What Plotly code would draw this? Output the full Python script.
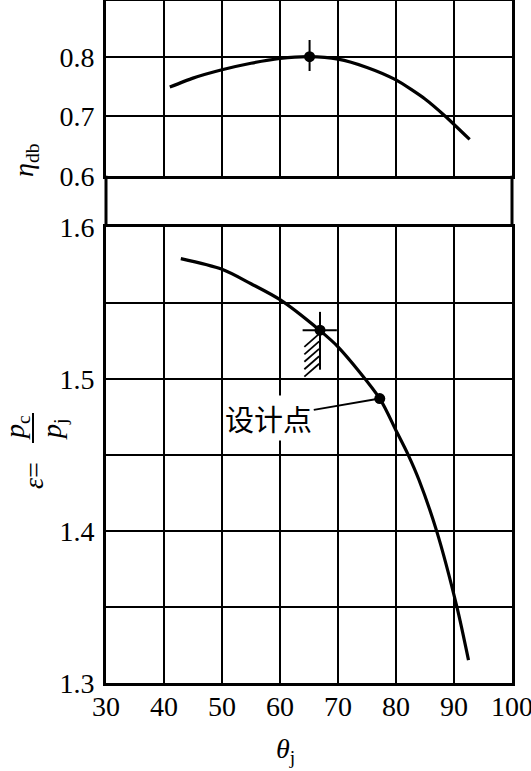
import plotly.graph_objects as go

# ---------------- data ----------------
theta_eta = [41.0, 45, 50, 55, 60, 65, 70, 75, 80, 85, 88.5, 92.7]
eta_db = [0.749, 0.764, 0.778, 0.789, 0.797, 0.800, 0.796, 0.782, 0.761, 0.729, 0.700, 0.661]

theta_eps = [42.9, 50, 55, 60, 66.8, 70, 77.2, 80, 82.1, 83.95, 87.0, 90.5, 92.5]
eps = [1.579, 1.572, 1.5625, 1.552, 1.532, 1.521, 1.487, 1.466, 1.450, 1.4336, 1.400, 1.350, 1.315]

eta_peak = (65.1, 0.800)
eps_limit = (66.9, 1.532)
design_pt = (77.2, 1.487)

x_ticks = [30, 40, 50, 60, 70, 80, 90, 100]
eta_ticks = [0.6, 0.7, 0.8]
eta_labels = ["0.6", "0.7", "0.8"]
eps_ticks = [1.3, 1.35, 1.4, 1.45, 1.5, 1.55, 1.6]
eps_labels = ["1.3", "", "1.4", "", "1.5", "", "1.6"]

# ---------------- layout helpers ----------------
W, H = 531, 771
ML, MR, MT, MB = 106, 19, 1, 88
PW, PH = W - ML - MR, H - MT - MB


def px(x):
    return (x - ML) / PW


def py(y):
    return (H - MB - y) / PH


SERIF = "Liberation Serif"
FS = 28

fig = go.Figure()

fig.add_trace(go.Scatter(x=theta_eps, y=eps, mode="lines",
                         line=dict(color="black", width=3.2, shape="spline", smoothing=0.8),
                         xaxis="x", yaxis="y", showlegend=False))
fig.add_trace(go.Scatter(x=theta_eta, y=eta_db, mode="lines",
                         line=dict(color="black", width=3.2, shape="spline", smoothing=0.6),
                         xaxis="x2", yaxis="y2", showlegend=False))
fig.add_trace(go.Scatter(x=[eps_limit[0], design_pt[0]], y=[eps_limit[1], design_pt[1]],
                         mode="markers", marker=dict(color="black", size=11),
                         xaxis="x", yaxis="y", showlegend=False))
fig.add_trace(go.Scatter(x=[eta_peak[0]], y=[eta_peak[1]], mode="markers",
                         marker=dict(color="black", size=11),
                         xaxis="x2", yaxis="y2", showlegend=False))

bot_dom = [0, py(226.7)]
top_dom = [py(175.7), 1]

axis_common = dict(showgrid=True, gridcolor="black", gridwidth=2,
                   showline=True, linecolor="black", linewidth=3, mirror=True,
                   zeroline=False, ticks="", ticklabeloverflow="allow",
                   tickfont=dict(family=SERIF, size=FS, color="black"))

fig.update_layout(
    width=W, height=H,
    margin=dict(l=ML, r=MR, t=MT, b=MB, pad=0, autoexpand=False),
    paper_bgcolor="white", plot_bgcolor="white",
    xaxis=dict(range=[30, 100], tickvals=x_ticks, ticktext=[str(v) for v in x_ticks],
               anchor="y", ticklabelstandoff=-4, **axis_common),
    yaxis=dict(range=[1.3, 1.6], domain=bot_dom, tickvals=eps_ticks, ticktext=eps_labels,
               anchor="x", ticklabelstandoff=3, **axis_common),
    xaxis2=dict(range=[30, 100], tickvals=x_ticks, showticklabels=False,
                anchor="y2", matches="x", **axis_common),
    yaxis2=dict(range=[0.6, 0.6 + 174.7 / 595], domain=top_dom, tickvals=eta_ticks,
                ticktext=eta_labels, anchor="x2", ticklabelstandoff=3, **axis_common),
)

shapes = []
# side borders in the gap between panels
for xp in (0, 1):
    shapes.append(dict(type="line", xref="paper", yref="paper", x0=xp, x1=xp,
                       y0=bot_dom[1], y1=top_dom[0], line=dict(color="black", width=3)))
# cross at peak efficiency
shapes.append(dict(type="line", xref="x2", yref="y2", x0=eta_peak[0], x1=eta_peak[0],
                   y0=eta_peak[1] - 0.024, y1=eta_peak[1] + 0.028,
                   line=dict(color="black", width=2)))
# limit mark on epsilon curve
lx, ly = eps_limit
shapes.append(dict(type="line", xref="x", yref="y", x0=lx, x1=lx,
                   y0=ly - 0.026, y1=ly + 0.012, line=dict(color="black", width=2)))
shapes.append(dict(type="line", xref="x", yref="y", x0=lx - 3.0, x1=lx + 2.9,
                   y0=ly, y1=ly, line=dict(color="black", width=2)))
for i in range(5):
    yt = ly - 0.0025 - i * 0.0049
    shapes.append(dict(type="line", xref="x", yref="y", x0=lx - 0.15, x1=lx - 2.7,
                       y0=yt, y1=yt - 0.0085, line=dict(color="black", width=1.8)))
# fraction bar of epsilon label
shapes.append(dict(type="line", xref="paper", yref="paper", x0=px(33), x1=px(33),
                   y0=py(443), y1=py(413), line=dict(color="black", width=2)))
fig.update_layout(shapes=shapes)

tf = dict(family=SERIF, size=FS, color="black")
cm = dict(xref="paper", yref="paper", showarrow=False, xanchor="center", yanchor="middle")
ann = [
    dict(x=px(25), y=py(160), textangle=-90, text="<i>η</i><sub>db</sub>", font=tf, **cm),
    dict(x=px(33), y=py(476), textangle=-90, text="<i>ε</i>=", font=tf, **cm),
    dict(x=px(16), y=py(428), textangle=-90, text="<i>p</i><sub>c</sub>", font=tf, **cm),
    dict(x=px(53), y=py(430), textangle=-90, text="<i>p</i><sub>j</sub>", font=tf, **cm),
    dict(x=px(285), y=py(751), text="<i>θ</i><sub>j</sub>", font=tf, **cm),
    dict(x=design_pt[0], y=design_pt[1], xref="x", yref="y", showarrow=True,
         ax=-111, ay=19, arrowhead=0, arrowwidth=2, arrowcolor="black", standoff=0,
         text="设计点", bgcolor="white", borderpad=1,
         font=dict(family="Noto Sans CJK SC", size=29, color="black")),
]
fig.update_layout(annotations=ann)

fig.write_html("out.html", config={"displayModeBar": False},
               post_script="document.body.style.margin='0px';")
